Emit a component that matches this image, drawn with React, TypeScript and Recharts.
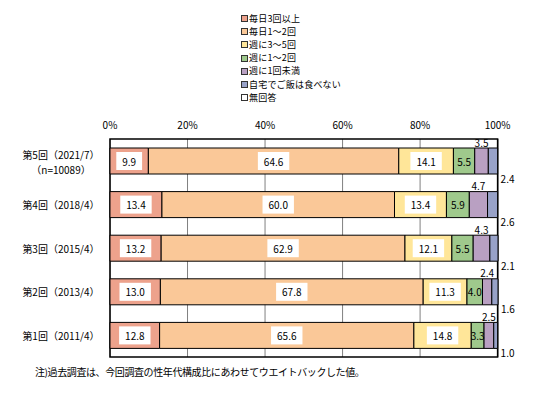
import React from 'react';
import {
    BarChart,
    Bar,
    XAxis,
    YAxis,
    CartesianGrid,
    Legend,
    LabelList,
    ReferenceArea,
} from 'recharts';

const rounds = ['第5回（2021/7）', '第4回（2018/4）', '第3回（2015/4）', '第2回（2013/4）', '第1回（2011/4）'];
const sampleNotes = ['（n=10089）', '', '', '', ''];

const seriesNames = ['毎日3回以上', '毎日1～2回', '週に3～5回', '週に1～2回', '週に1回未満', '自宅でご飯は食べない', '無回答'];

const daily3 = [9.9, 13.4, 13.2, 13.0, 12.8];
const daily12 = [64.6, 60.0, 62.9, 67.8, 65.6];
const weekly35 = [14.1, 13.4, 12.1, 11.3, 14.8];
const weekly12 = [5.5, 5.9, 5.5, 4.0, 3.3];
const weeklyLess = [3.5, 4.7, 4.3, 2.4, 2.5];
const neverHome = [2.4, 2.6, 2.1, 1.6, 1.0];
const noAnswer = [0, 0, 0, 0, 0];

const xTicks = [0, 20, 40, 60, 80, 100];

const FONT = '"Noto Sans CJK JP", "Noto Sans", sans-serif';

const data = rounds.map((name, i) => ({
    name,
    note: sampleNotes[i],
    daily3: daily3[i],
    daily12: daily12[i],
    weekly35: weekly35[i],
    weekly12: weekly12[i],
    weeklyLess: weeklyLess[i],
    neverHome: neverHome[i],
    noAnswer: noAnswer[i],
}));

const fmt = (v: any) => Number(v).toFixed(1);

// label in a white box, centred in the segment
const BoxLabel = (props: any) => {
    const { x, y, width, height, value } = props;
    const text = fmt(value);
    const w = text.length * 5.6 + 9;
    const cx = x + width / 2;
    const cy = y + height / 2;
    return (
        <g>
            <rect x={cx - w / 2} y={cy - 9} width={w} height={18} fill="#fff" />
            <text x={cx} y={cy} textAnchor="middle" dominantBaseline="central" fontSize={10} fontFamily={FONT} fill="#000">
                {text}
            </text>
        </g>
    );
};

const PlainLabel = (props: any) => {
    const { x, y, width, height, value } = props;
    return (
        <text x={x + width / 2} y={y + height / 2} textAnchor="middle" dominantBaseline="central" fontSize={10} fontFamily={FONT} fill="#000">
            {fmt(value)}
        </text>
    );
};

const AboveLabel = (props: any) => {
    const { x, y, width, value } = props;
    return (
        <text x={x + width / 2} y={y - 6} textAnchor="middle" dominantBaseline="central" fontSize={10} fontFamily={FONT} fill="#000">
            {fmt(value)}
        </text>
    );
};

const BelowRightLabel = (props: any) => {
    const { x, y, width, height, value } = props;
    return (
        <text x={x + width + 3} y={y + height + 4} textAnchor="start" dominantBaseline="central" fontSize={10} fontFamily={FONT} fill="#000">
            {fmt(value)}
        </text>
    );
};

const RoundTick = (props: any) => {
    const { y, payload, index } = props;
    const note = sampleNotes[index];
    const cx = 61;
    if (note) {
        return (
            <g>
                <text x={cx} y={y - 6} textAnchor="middle" dominantBaseline="central" fontSize={10} fontFamily={FONT} fill="#000">
                    {payload.value}
                </text>
                <text x={cx} y={y + 9} textAnchor="middle" dominantBaseline="central" fontSize={10} fontFamily={FONT} fill="#000">
                    {note}
                </text>
            </g>
        );
    }
    return (
        <text x={cx} y={y} textAnchor="middle" dominantBaseline="central" fontSize={10} fontFamily={FONT} fill="#000">
            {payload.value}
        </text>
    );
};

const LegendList = (props: any) => {
    const items = [...(props.payload || [])].sort(
        (a: any, b: any) => seriesNames.indexOf(a.value) - seriesNames.indexOf(b.value)
    );
    return (
        <div style={{ fontFamily: FONT, fontSize: 9, letterSpacing: 0.2, color: '#000' }}>
            {items.map((p: any) => (
                <div
                    key={p.value}
                    style={{ display: 'flex', alignItems: 'center', whiteSpace: 'nowrap', height: 13.2, lineHeight: '12px' }}
                >
                    <span
                        style={{
                            display: 'inline-block',
                            width: 5,
                            height: 5,
                            border: '1px solid #333',
                            background: p.payload?.fill || p.color,
                            marginRight: 1,
                        }}
                    />
                    <span>{p.value}</span>
                </div>
            ))}
        </div>
    );
};

const App = () => {
    return (
        <div style={{ position: 'absolute', left: 0, top: 0, width: 533, height: 398, background: '#fff' }}>
            <BarChart
                width={533}
                height={398}
                data={data}
                layout="vertical"
                margin={{ top: 109, right: 35, bottom: 41, left: 0 }}
                barSize={26}
            >
                <CartesianGrid horizontal={false} stroke="#808080" />
                <XAxis
                    type="number"
                    orientation="top"
                    domain={[0, 100]}
                    ticks={xTicks}
                    height={30}
                    axisLine={false}
                    tickLine={false}
                    tickMargin={4}
                    tickFormatter={(v) => `${v}%`}
                    tick={{ fontSize: 10, fill: '#000', fontFamily: FONT }}
                />
                <YAxis
                    type="category"
                    dataKey="name"
                    width={110}
                    axisLine={false}
                    tickLine={false}
                    tick={<RoundTick />}
                />
                <Legend
                    layout="vertical"
                    align="center"
                    verticalAlign="middle"
                    content={<LegendList />}
                    wrapperStyle={{ left: 241, top: 12, width: 'auto', height: 'auto' }}
                />
                <Bar dataKey="daily3" name={seriesNames[0]} stackId="a" fill="#EDA28C" stroke="#000" strokeWidth={1} isAnimationActive={false}>
                    <LabelList dataKey="daily3" content={<BoxLabel />} />
                </Bar>
                <Bar dataKey="daily12" name={seriesNames[1]} stackId="a" fill="#FAC898" stroke="#000" strokeWidth={1} isAnimationActive={false}>
                    <LabelList dataKey="daily12" content={<BoxLabel />} />
                </Bar>
                <Bar dataKey="weekly35" name={seriesNames[2]} stackId="a" fill="#FFE699" stroke="#000" strokeWidth={1} isAnimationActive={false}>
                    <LabelList dataKey="weekly35" content={<BoxLabel />} />
                </Bar>
                <Bar dataKey="weekly12" name={seriesNames[3]} stackId="a" fill="#9FC98C" stroke="#000" strokeWidth={1} isAnimationActive={false}>
                    <LabelList dataKey="weekly12" content={<PlainLabel />} />
                </Bar>
                <Bar dataKey="weeklyLess" name={seriesNames[4]} stackId="a" fill="#B9A0C2" stroke="#000" strokeWidth={1} isAnimationActive={false}>
                    <LabelList dataKey="weeklyLess" content={<AboveLabel />} />
                </Bar>
                <Bar dataKey="neverHome" name={seriesNames[5]} stackId="a" fill="#98A2C8" stroke="#000" strokeWidth={1} isAnimationActive={false}>
                    <LabelList dataKey="neverHome" content={<BelowRightLabel />} />
                </Bar>
                <Bar dataKey="noAnswer" name={seriesNames[6]} stackId="a" fill="#FFFFFF" stroke="#000" strokeWidth={1} isAnimationActive={false} />
                <ReferenceArea x1={0} x2={100} fill="none" stroke="#000" strokeWidth={1.5} ifOverflow="visible" />
            </BarChart>
            <div
                style={{
                    position: 'absolute',
                    left: 35,
                    top: 364,
                    fontFamily: FONT,
                    fontSize: 10,
                    letterSpacing: -0.4,
                    whiteSpace: 'nowrap',
                    color: '#000',
                }}
            >
                注)過去調査は、今回調査の性年代構成比にあわせてウエイトバックした値。
            </div>
        </div>
    );
};

export default App;
